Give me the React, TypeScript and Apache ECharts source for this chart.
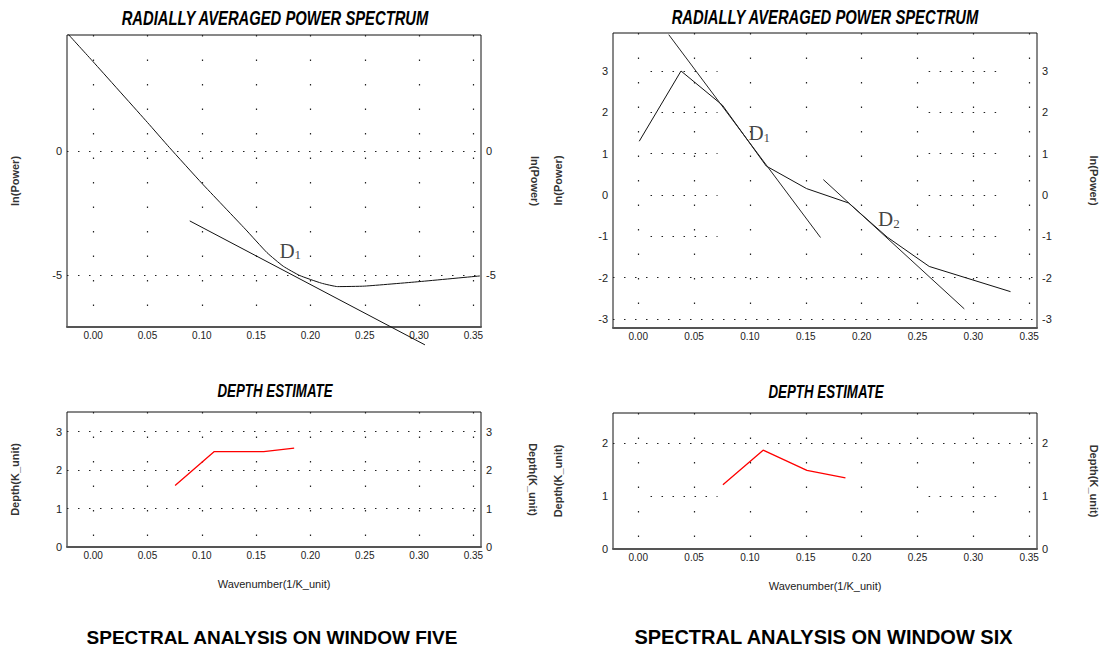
import React, { useEffect, useRef } from 'react';
import * as echarts from 'echarts';

// ---------- data ----------
const xTicks = [0, 0.05, 0.1, 0.15, 0.2, 0.25, 0.3, 0.35];

// Window five: radially averaged power spectrum
const w5SpecX = [-0.0232, 0.0, 0.05, 0.07, 0.1, 0.14, 0.16, 0.175, 0.19, 0.21, 0.225, 0.25, 0.3, 0.356];
const w5SpecY = [4.72, 3.6, 1.15, 0.15, -1.3, -3.15, -4.1, -4.65, -5.02, -5.33, -5.47, -5.45, -5.27, -5.04];
const w5SlopeX = [0.0889, 0.3054];
const w5SlopeY = [-2.82, -7.82];
const w5PowerTicks = [0, -5];
// Window five: depth estimate
const w5DepthX = [0.0754, 0.1115, 0.157, 0.185];
const w5DepthY = [1.6, 2.48, 2.48, 2.57];
const w5DepthTicks = [0, 1, 2, 3];
const w5Labels = [{ sub: '1', x: 0.1814, y: -4.02 }];

// Window six: radially averaged power spectrum
const w6SpecX = [0.0009, 0.0383, 0.0753, 0.1146, 0.1507, 0.1883, 0.2229, 0.2605, 0.3333];
const w6SpecY = [1.3, 3.0, 2.175, 0.7, 0.154, -0.194, -1.02, -1.73, -2.34];
const w6Slope1X = [0.0273, 0.1632];
const w6Slope1Y = [3.88, -1.03];
const w6Slope2X = [0.1657, 0.2919];
const w6Slope2Y = [0.372, -2.757];
const w6PowerTicks = [-3, -2, -1, 0, 1, 2, 3];
// grid rows of window six drawn only in part (dotted)
const w6PartialRows = [3, 2, 1, 0, -1];
const w6FullRows = [-2, -3];
const w6DepthPartialRows = [1];
const w6DepthFullRows = [2];
const partialSpans = [
  [0.011, 0.071],
  [0.26, 0.322],
];
// Window six: depth estimate
const w6DepthX = [0.0758, 0.1118, 0.151, 0.1855];
const w6DepthY = [1.21, 1.86, 1.48, 1.34];
const w6DepthTicks = [0, 1, 2];
const w6Labels = [
  { sub: '1', x: 0.1083, y: 1.49 },
  { sub: '2', x: 0.2244, y: -0.59 },
];

const zip = (xs: number[], ys: number[]) => xs.map((x, i) => [x, ys[i]]);

const SANS = "'Liberation Sans', Arial, sans-serif";
const SERIF = "'Liberation Serif', 'Times New Roman', serif";
const ROW_DOTS = { type: [1.5, 9.5], color: '#222', width: 1.2 };

function xAxis(gridIndex: number, min: number, max: number, withName: boolean) {
  return {
    type: 'value',
    gridIndex,
    min,
    max,
    axisLine: { show: true, onZero: false, lineStyle: { color: '#555', width: 2 } },
    axisTick: { show: false, customValues: xTicks },
    axisLabel: {
      customValues: xTicks,
      formatter: (v: number) => v.toFixed(2),
      color: '#222',
      fontSize: 10,
      margin: 3,
      fontFamily: SANS,
    },
    splitLine: { show: true, lineStyle: { type: [1.5, 23], color: '#222', width: 1.2 } },
    name: withName ? 'Wavenumber(1/K_unit)' : '',
    nameLocation: 'middle',
    nameGap: 31,
    nameTextStyle: { fontSize: 11, color: '#222', fontFamily: SANS },
  };
}

function yAxis(
  gridIndex: number,
  min: number,
  max: number,
  ticks: number[],
  name: string,
  side: 'left' | 'right',
  gap: number,
  split = true
) {
  return {
    type: 'value',
    gridIndex,
    min,
    max,
    position: side,
    axisLine: { show: false },
    axisTick: { show: false, customValues: ticks },
    axisLabel: { customValues: ticks, color: '#222', fontSize: 11, margin: 5, fontFamily: SANS },
    splitLine: { show: side === 'left' && split, lineStyle: ROW_DOTS },
    name,
    nameLocation: 'middle',
    nameGap: gap,
    nameRotate: side === 'left' ? 90 : -90,
    nameTextStyle: { fontSize: 11, fontWeight: 'bold', color: '#333', fontFamily: SANS },
  };
}

function rowLines(xi: number, yi: number, full: number[], partial: number[], xmin: number, xmax: number) {
  const segs: any[] = [];
  full.forEach((y) => segs.push([{ coord: [xmin, y] }, { coord: [xmax, y] }]));
  partial.forEach((y) =>
    partialSpans.forEach(([a, b]) => segs.push([{ coord: [a, y] }, { coord: [b, y] }]))
  );
  return {
    type: 'line',
    xAxisIndex: xi,
    yAxisIndex: yi,
    data: [],
    silent: true,
    markLine: {
      silent: true,
      symbol: 'none',
      label: { show: false },
      lineStyle: ROW_DOTS,
      data: segs,
    },
    z: 1,
  };
}

function lineSeries(
  xi: number,
  yi: number,
  data: number[][],
  color: string,
  clip = true,
  width = 1,
  smooth: number | boolean = false
) {
  return {
    type: 'line',
    xAxisIndex: xi,
    yAxisIndex: yi,
    data,
    symbol: 'none',
    showSymbol: false,
    clip,
    smooth,
    lineStyle: { color, width },
    z: 5,
  };
}

function labelSeries(xi: number, yi: number, labels: { sub: string; x: number; y: number }[]) {
  return {
    type: 'scatter',
    xAxisIndex: xi,
    yAxisIndex: yi,
    symbolSize: 1,
    itemStyle: { color: 'rgba(0,0,0,0)' },
    data: labels.map((l) => ({
      value: [l.x, l.y],
      label: { formatter: `{d|D}{s|${l.sub}}` },
    })),
    label: {
      show: true,
      position: 'inside',
      rich: {
        d: { fontFamily: SERIF, fontSize: 21, color: '#111' },
        s: { fontFamily: SERIF, fontSize: 13, color: '#111', verticalAlign: 'bottom' },
      },
    },
    z: 6,
  };
}

function textEl(text: string, x: number, y: number, size: number, italic: boolean, scaleX: number) {
  return {
    type: 'text',
    x,
    y,
    scaleX,
    style: {
      text,
      fontSize: size,
      fontWeight: 'bold',
      fontStyle: italic ? 'italic' : 'normal',
      fontFamily: SANS,
      fill: '#000',
      textAlign: 'center',
      align: 'center',
      textVerticalAlign: 'middle',
      verticalAlign: 'middle',
    },
  };
}

export default function App() {
  const ref = useRef<HTMLDivElement>(null);

  useEffect(() => {
    if (!ref.current) return;
    const chart = echarts.init(ref.current, undefined, { renderer: 'svg' });

    const gridStyle = { show: true, borderColor: '#111', borderWidth: 1, backgroundColor: '#fff' };
    const option: any = {
      animation: false,
      backgroundColor: '#fff',
      textStyle: { fontFamily: SANS },
      grid: [
        { left: 67, top: 35, width: 414, height: 292, ...gridStyle },
        { left: 613, top: 33, width: 424, height: 295, ...gridStyle },
        { left: 67, top: 412, width: 414, height: 135, ...gridStyle },
        { left: 613, top: 413, width: 424, height: 136, ...gridStyle },
      ],
      xAxis: [
        xAxis(0, -0.0241, 0.357, false),
        xAxis(1, -0.0226, 0.357, false),
        xAxis(2, -0.0241, 0.357, true),
        xAxis(3, -0.0226, 0.357, true),
      ],
      yAxis: [
        yAxis(0, -7.1, 4.68, w5PowerTicks, 'ln(Power)', 'left', 47),
        yAxis(0, -7.1, 4.68, w5PowerTicks, 'ln(Power)', 'right', 48),
        yAxis(1, -3.22, 3.92, w6PowerTicks, 'ln(Power)', 'left', 50, false),
        yAxis(1, -3.22, 3.92, w6PowerTicks, 'ln(Power)', 'right', 51),
        yAxis(2, 0, 3.51, w5DepthTicks, 'Depth(K_unit)', 'left', 47),
        yAxis(2, 0, 3.51, w5DepthTicks, 'Depth(K_unit)', 'right', 46),
        yAxis(3, 0, 2.56, w6DepthTicks, 'Depth(K_unit)', 'left', 50, false),
        yAxis(3, 0, 2.56, w6DepthTicks, 'Depth(K_unit)', 'right', 51),
      ],
      series: [
        lineSeries(0, 0, zip(w5SpecX, w5SpecY), '#111', true, 1, 0.15),
        lineSeries(0, 0, zip(w5SlopeX, w5SlopeY), '#111', false),
        labelSeries(0, 0, w5Labels),
        rowLines(1, 2, w6FullRows, w6PartialRows, -0.0226, 0.357),
        lineSeries(1, 2, zip(w6SpecX, w6SpecY), '#111'),
        lineSeries(1, 2, zip(w6Slope1X, w6Slope1Y), '#222', false),
        lineSeries(1, 2, zip(w6Slope2X, w6Slope2Y), '#222', false),
        labelSeries(1, 2, w6Labels),
        lineSeries(2, 4, zip(w5DepthX, w5DepthY), '#ff0000', true, 1.3),
        rowLines(3, 6, w6DepthFullRows, w6DepthPartialRows, -0.0226, 0.357),
        lineSeries(3, 6, zip(w6DepthX, w6DepthY), '#ff0000', true, 1.3),
      ],
      graphic: [
        textEl('RADIALLY AVERAGED POWER SPECTRUM', 275, 18, 20, true, 0.74),
        textEl('RADIALLY AVERAGED POWER SPECTRUM', 825, 17, 20, true, 0.74),
        textEl('DEPTH ESTIMATE', 275, 391, 18, true, 0.74),
        textEl('DEPTH ESTIMATE', 826, 392, 18, true, 0.74),
        textEl('SPECTRAL ANALYSIS ON WINDOW FIVE', 272, 637, 19, false, 1),
        textEl('SPECTRAL ANALYSIS ON WINDOW SIX', 823.5, 637, 20, false, 1),
      ],
    };

    chart.setOption(option);
    return () => chart.dispose();
  }, []);

  return (
    <div
      ref={ref}
      style={{ position: 'fixed', left: 0, top: 0, width: 1101, height: 652, background: '#fff' }}
    />
  );
}
